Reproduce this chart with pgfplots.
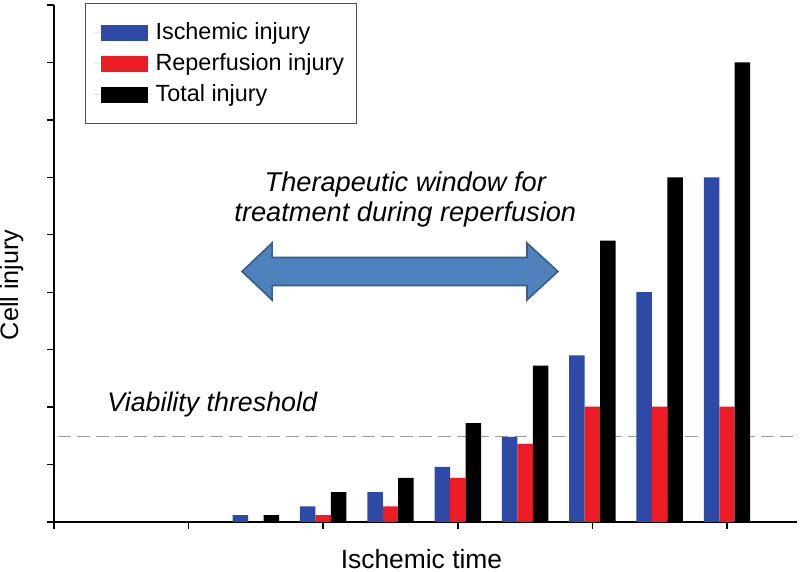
\documentclass[border=0pt]{standalone}
\usepackage{fontspec}
\setmainfont{Liberation Sans}
\usepackage{pgfplots}
\pgfplotsset{compat=1.18}

\definecolor{ischblue}{RGB}{44,74,166}
\definecolor{repred}{RGB}{237,28,36}
\definecolor{arrowfill}{RGB}{79,129,189}
\definecolor{arrowline}{RGB}{56,93,138}
\definecolor{threshgray}{RGB}{155,155,155}
\definecolor{legendgray}{RGB}{80,80,80}

\begin{document}
\begin{tikzpicture}
\begin{axis}[
    scale only axis,
    width=371.5pt, height=258.5pt,
    xmin=0, xmax=5.52,
    ymin=0, ymax=9,
    axis lines*=left,
    axis line style={line width=1.2pt},
    xtick={0,1,2,3,4,5},
    ytick={0,1,2,3,4,5,6,7,8,9},
    xticklabels={}, yticklabels={},
    tick align=outside,
    major tick length=3.5pt,
    tick style={line width=0.7pt, black},
    xlabel={Ischemic time},
    ylabel={Cell injury},
    xlabel style={at={(axis description cs:0.4946,0)}, anchor=base, yshift=-23.5pt,
        font=\fontsize{13.2}{15}\selectfont},
    ylabel style={at={(axis description cs:-0.0572,0.459)}, anchor=center,
        font=\fontsize{12.6}{15}\selectfont},
    clip=false,
    legend style={
        at={(axis description cs:0.0417,1.004)}, anchor=north west,
        draw=legendgray, line width=0.6pt,
        font=\fontsize{11.7}{14}\selectfont,
        inner xsep=4pt, inner ysep=7.5pt,
        row sep=1.6pt,
        nodes={inner sep=2pt},
    },
    legend cell align=left,
    legend image code/.code={
        \path (0pt,0pt) -- (29pt,0pt);
        \fill[#1] (3.5pt,-4pt) rectangle (27pt,4pt);},
]

% viability threshold
\draw[threshgray, line width=0.8pt, dash pattern=on 6.5pt off 3pt]
    (axis cs:0.03,1.486) -- (axis cs:5.52,1.486);

\addplot[ybar, bar width=0.115, bar shift=-0.115, fill=ischblue, draw=none]
    coordinates {(1.5,0.12) (2,0.27) (2.5,0.52) (3,0.96) (3.5,1.48) (4,2.9) (4.5,4.0) (5,6.0)};
\addlegendentry{Ischemic injury}
\addplot[ybar, bar width=0.115, bar shift=0, fill=repred, draw=none]
    coordinates {(2,0.12) (2.5,0.27) (3,0.77) (3.5,1.36) (4,2.01) (4.5,2.01) (5,2.01)};
\addlegendentry{Reperfusion injury}
\addplot[ybar, bar width=0.115, bar shift=0.115, fill=black, draw=none]
    coordinates {(1.5,0.12) (2,0.52) (2.5,0.77) (3,1.72) (3.5,2.72) (4,4.9) (4.5,6.0) (5,8.0)};
\addlegendentry{Total injury}

% therapeutic window arrow
\filldraw[fill=arrowfill, draw=arrowline, line width=0.8pt, line join=miter]
    (axis cs:1.397,4.361) -- (axis cs:1.620,4.857) -- (axis cs:1.620,4.605)
    -- (axis cs:3.514,4.605) -- (axis cs:3.514,4.857) -- (axis cs:3.744,4.361)
    -- (axis cs:3.514,3.865) -- (axis cs:3.514,4.117) -- (axis cs:1.620,4.117)
    -- (axis cs:1.620,3.865) -- cycle;

\node[anchor=base, font=\fontsize{13.6}{15}\selectfont\itshape, inner sep=0pt]
    at (axis cs:2.61,5.76) {Therapeutic window for};
\node[anchor=base, font=\fontsize{13.6}{15}\selectfont\itshape, inner sep=0pt]
    at (axis cs:2.61,5.23) {treatment during reperfusion};
\node[anchor=base west, font=\fontsize{13.4}{15}\selectfont\itshape, inner sep=0pt]
    at (axis cs:0.394,1.915) {Viability threshold};

\end{axis}
\pgfresetboundingbox
\path ([shift={(-27pt,-25pt)}]current axis.south west)
    rectangle ([shift={(373pt,261pt)}]current axis.south west);
\end{tikzpicture}
\end{document}
